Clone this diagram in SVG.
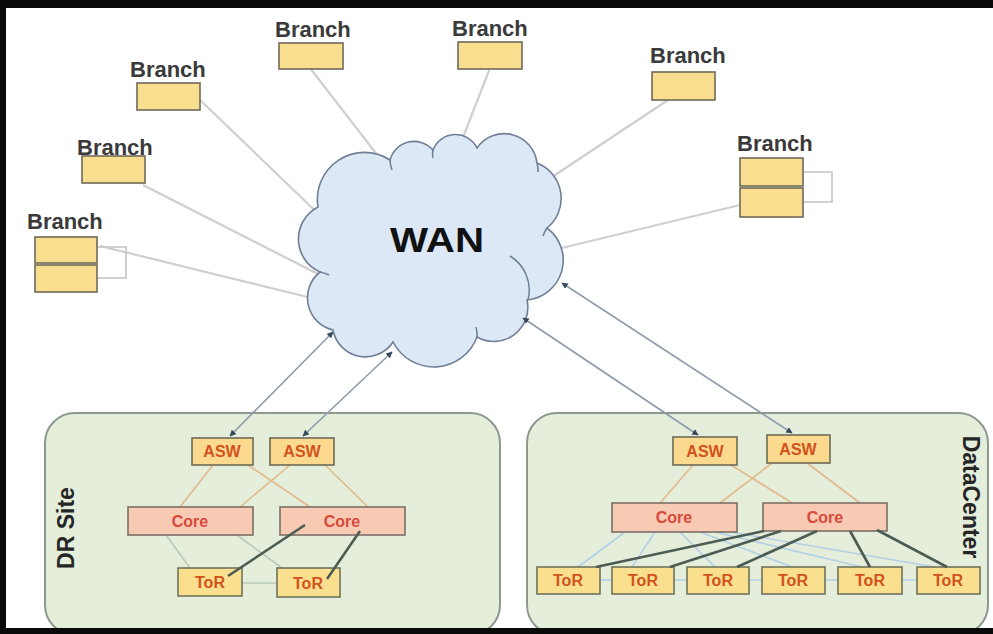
<svg xmlns="http://www.w3.org/2000/svg" width="993" height="634" viewBox="0 0 993 634">
<style>
.br{fill:#f8de8e;stroke:#6f6a58;stroke-width:1.6}
.bt{font-family:"Liberation Sans",Arial,sans-serif;font-weight:bold;font-size:22px;fill:#3a3a3a}
.wl{stroke:#cfcfcf;stroke-width:2.2;fill:none}
.brk{stroke:#c4c4c4;stroke-width:1.6;fill:none}
.site{fill:#e4eedb;stroke:#8c998c;stroke-width:2}
.st{font-family:"Liberation Sans",Arial,sans-serif;font-weight:bold;font-size:23px;fill:#262626}
.asw{fill:#fbd98f;stroke:#6d6b55;stroke-width:1.6}
.core{fill:#f8c9b3;stroke:#7c6e66;stroke-width:1.6}
.tor{fill:#fadf8e;stroke:#6e7459;stroke-width:1.6}
.nt{font-family:"Liberation Sans",Arial,sans-serif;font-weight:bold;font-size:16px;text-anchor:middle}
.ta{fill:#d2521c}
.tc{fill:#d84a3c}
.tan{stroke:#e2b98a;stroke-width:1.6;fill:none}
.lg{stroke:#b9c9b9;stroke-width:1.6;fill:none}
.lb{stroke:#b3d0e6;stroke-width:1.6;fill:none}
.dk{stroke:#4c5c52;stroke-width:2.6;fill:none}
.up{stroke:#8d9cab;stroke-width:1.6;fill:none;marker-start:url(#ah);marker-end:url(#ah)}
</style>
<defs>
<marker id="ah" viewBox="0 0 10 10" refX="9" refY="5" markerWidth="4" markerHeight="4" orient="auto-start-reverse">
<path d="M0,0 L10,5 L0,10 z" fill="#34495e"/>
</marker>
</defs>
<rect x="0" y="0" width="993" height="634" fill="#ffffff"/>

<g id="connectors">
<line class="wl" x1="100" y1="246" x2="320" y2="300"/>
<line class="wl" x1="143" y1="185" x2="320" y2="275"/>
<line class="wl" x1="200" y1="100" x2="330" y2="225"/>
<line class="wl" x1="310" y1="68" x2="385" y2="165"/>
<line class="wl" x1="490" y1="68" x2="460" y2="145"/>
<line class="wl" x1="668" y1="100" x2="540" y2="185"/>
<line class="wl" x1="740" y1="205" x2="545" y2="252"/>
<path class="brk" d="M97,247 H126 V278 H97"/>
<path class="brk" d="M803,172 H832 V202 H803"/>
</g>

<g id="wan">
<path d="M318 207 A47 47 0 0 1 390 160 A25 25 0 0 1 433 150 A24 24 0 0 1 477 148 A33 33 0 0 1 537 163 A38 38 0 0 1 547 228 A40 40 0 0 1 527 300 A34 34 0 0 1 477 337 A46 46 0 0 1 393 342 A33 33 0 0 1 333 330 A33 33 0 0 1 320 272 A36 36 0 0 1 318 207 Z" fill="#dce8f5" stroke="#6e7f96" stroke-width="1.6"/>
<path d="M510 256 A40 40 0 0 1 528 300 M390 160 A30 30 0 0 0 392 170 M433 150 A20 20 0 0 0 433 158 M537 163 A30 30 0 0 1 538 172 M547 228 A30 30 0 0 0 543 236 M320 272 A30 30 0 0 1 329 275 M477 337 A30 30 0 0 0 476 327" fill="none" stroke="#6e7f96" stroke-width="1.5"/>
<text x="437" y="252" text-anchor="middle" font-family="'Liberation Sans',Arial,sans-serif" font-weight="bold" font-size="36" fill="#111" transform="translate(437,0) scale(1.12,1) translate(-437,0)">WAN</text>
</g>

<g id="b1"><text class="bt" x="27" y="229">Branch</text><rect class="br" x="35" y="237" width="62" height="26"/><rect class="br" x="35" y="265" width="62" height="27"/></g>
<g id="b2"><text class="bt" x="77" y="155">Branch</text><rect class="br" x="82" y="156" width="63" height="27"/></g>
<g id="b3"><text class="bt" x="130" y="77">Branch</text><rect class="br" x="137" y="83" width="63" height="27"/></g>
<g id="b4"><text class="bt" x="275" y="37">Branch</text><rect class="br" x="279" y="43" width="64" height="26"/></g>
<g id="b5"><text class="bt" x="452" y="36">Branch</text><rect class="br" x="458" y="42" width="64" height="27"/></g>
<g id="b6"><text class="bt" x="650" y="63">Branch</text><rect class="br" x="652" y="72" width="63" height="28"/></g>
<g id="b7"><text class="bt" x="737" y="151">Branch</text><rect class="br" x="740" y="158" width="63" height="28"/><rect class="br" x="740" y="188" width="63" height="29"/></g>

<g id="dr">
<rect class="site" x="45" y="413" width="455" height="222" rx="30"/>
<text class="st" transform="translate(74,528) rotate(-90)" text-anchor="middle">DR Site</text>
</g>
<g id="dc">
<rect class="site" x="527" y="413" width="461" height="222" rx="30"/>
<text class="st" transform="translate(963,497) rotate(90)" text-anchor="middle">DataCenter</text>
</g>

<g id="site-connectors">
<line class="up" x1="333" y1="332" x2="230" y2="436"/>
<line class="up" x1="392" y1="352" x2="303" y2="436"/>
<line class="up" x1="523" y1="318" x2="698" y2="435"/>
<line class="up" x1="562" y1="283" x2="792" y2="433"/>
<line class="tan" x1="213" y1="465" x2="180" y2="507"/>
<line class="tan" x1="248" y1="465" x2="310" y2="507"/>
<line class="tan" x1="290" y1="465" x2="240" y2="507"/>
<line class="tan" x1="320" y1="460" x2="368" y2="507"/>
<line class="lg" x1="166" y1="535" x2="190" y2="568"/>
<line class="lg" x1="237" y1="535" x2="282" y2="568"/>
<line class="lg" x1="242" y1="583" x2="277" y2="583"/>
<line class="tan" x1="693" y1="465" x2="660" y2="503"/>
<line class="tan" x1="731" y1="465" x2="792" y2="503"/>
<line class="tan" x1="772" y1="463" x2="720" y2="503"/>
<line class="tan" x1="807" y1="463" x2="860" y2="503"/>
<line class="lb" x1="537" y1="580" x2="980" y2="580"/>
<line class="lb" x1="625" y1="532" x2="578" y2="567"/>
<line class="lb" x1="655" y1="532" x2="632" y2="567"/>
<line class="lb" x1="680" y1="532" x2="715" y2="567"/>
<line class="lb" x1="700" y1="532" x2="792" y2="567"/>
<line class="lb" x1="715" y1="532" x2="862" y2="567"/>
<line class="lb" x1="730" y1="532" x2="935" y2="567"/>
</g>

<g id="dr-asw1"><rect class="asw" x="192" y="438" width="61" height="27"/><text class="nt ta" x="222" y="457">ASW</text></g>
<g id="dr-asw2"><rect class="asw" x="270" y="438" width="64" height="27"/><text class="nt ta" x="302" y="457">ASW</text></g>
<g id="dr-core1"><rect class="core" x="128" y="507" width="125" height="28"/><text class="nt tc" x="190" y="527">Core</text></g>
<g id="dr-core2"><rect class="core" x="280" y="507" width="125" height="28"/><text class="nt tc" x="342" y="527">Core</text></g>
<g id="dr-tor1"><rect class="tor" x="178" y="568" width="64" height="28"/><text class="nt ta" x="210" y="588">ToR</text></g>
<g id="dr-tor2"><rect class="tor" x="277" y="568" width="63" height="29"/><text class="nt ta" x="308" y="589">ToR</text></g>

<g id="dc-asw1"><rect class="asw" x="673" y="437" width="64" height="28"/><text class="nt ta" x="705" y="457">ASW</text></g>
<g id="dc-asw2"><rect class="asw" x="767" y="435" width="63" height="28"/><text class="nt ta" x="798" y="455">ASW</text></g>
<g id="dc-core1"><rect class="core" x="612" y="503" width="125" height="29"/><text class="nt tc" x="674" y="523">Core</text></g>
<g id="dc-core2"><rect class="core" x="763" y="503" width="124" height="28"/><text class="nt tc" x="825" y="523">Core</text></g>
<g id="dc-tor1"><rect class="tor" x="537" y="567" width="63" height="27"/><text class="nt ta" x="568" y="586">ToR</text></g>
<g id="dc-tor2"><rect class="tor" x="612" y="567" width="62" height="27"/><text class="nt ta" x="643" y="586">ToR</text></g>
<g id="dc-tor3"><rect class="tor" x="687" y="567" width="62" height="27"/><text class="nt ta" x="718" y="586">ToR</text></g>
<g id="dc-tor4"><rect class="tor" x="762" y="567" width="63" height="27"/><text class="nt ta" x="793" y="586">ToR</text></g>
<g id="dc-tor5"><rect class="tor" x="838" y="567" width="64" height="27"/><text class="nt ta" x="870" y="586">ToR</text></g>
<g id="dc-tor6"><rect class="tor" x="917" y="567" width="63" height="27"/><text class="nt ta" x="948" y="586">ToR</text></g>

<g id="dark-connectors">
<line class="dk" x1="305" y1="525" x2="228" y2="576"/>
<line class="dk" x1="360" y1="531" x2="327" y2="579"/>
<line class="dk" x1="764" y1="531" x2="596" y2="567"/>
<line class="dk" x1="781" y1="531" x2="670" y2="567"/>
<line class="dk" x1="817" y1="531" x2="737" y2="567"/>
<line class="dk" x1="850" y1="531" x2="870" y2="567"/>
<line class="dk" x1="877" y1="530" x2="947" y2="567"/>
</g>

<g id="frame">
<rect x="0" y="0" width="993" height="8" fill="#0a0a0a"/>
<rect x="0" y="0" width="6" height="634" fill="#0a0a0a"/>
<rect x="0" y="628" width="993" height="6" fill="#0a0a0a"/>
</g>
</svg>
